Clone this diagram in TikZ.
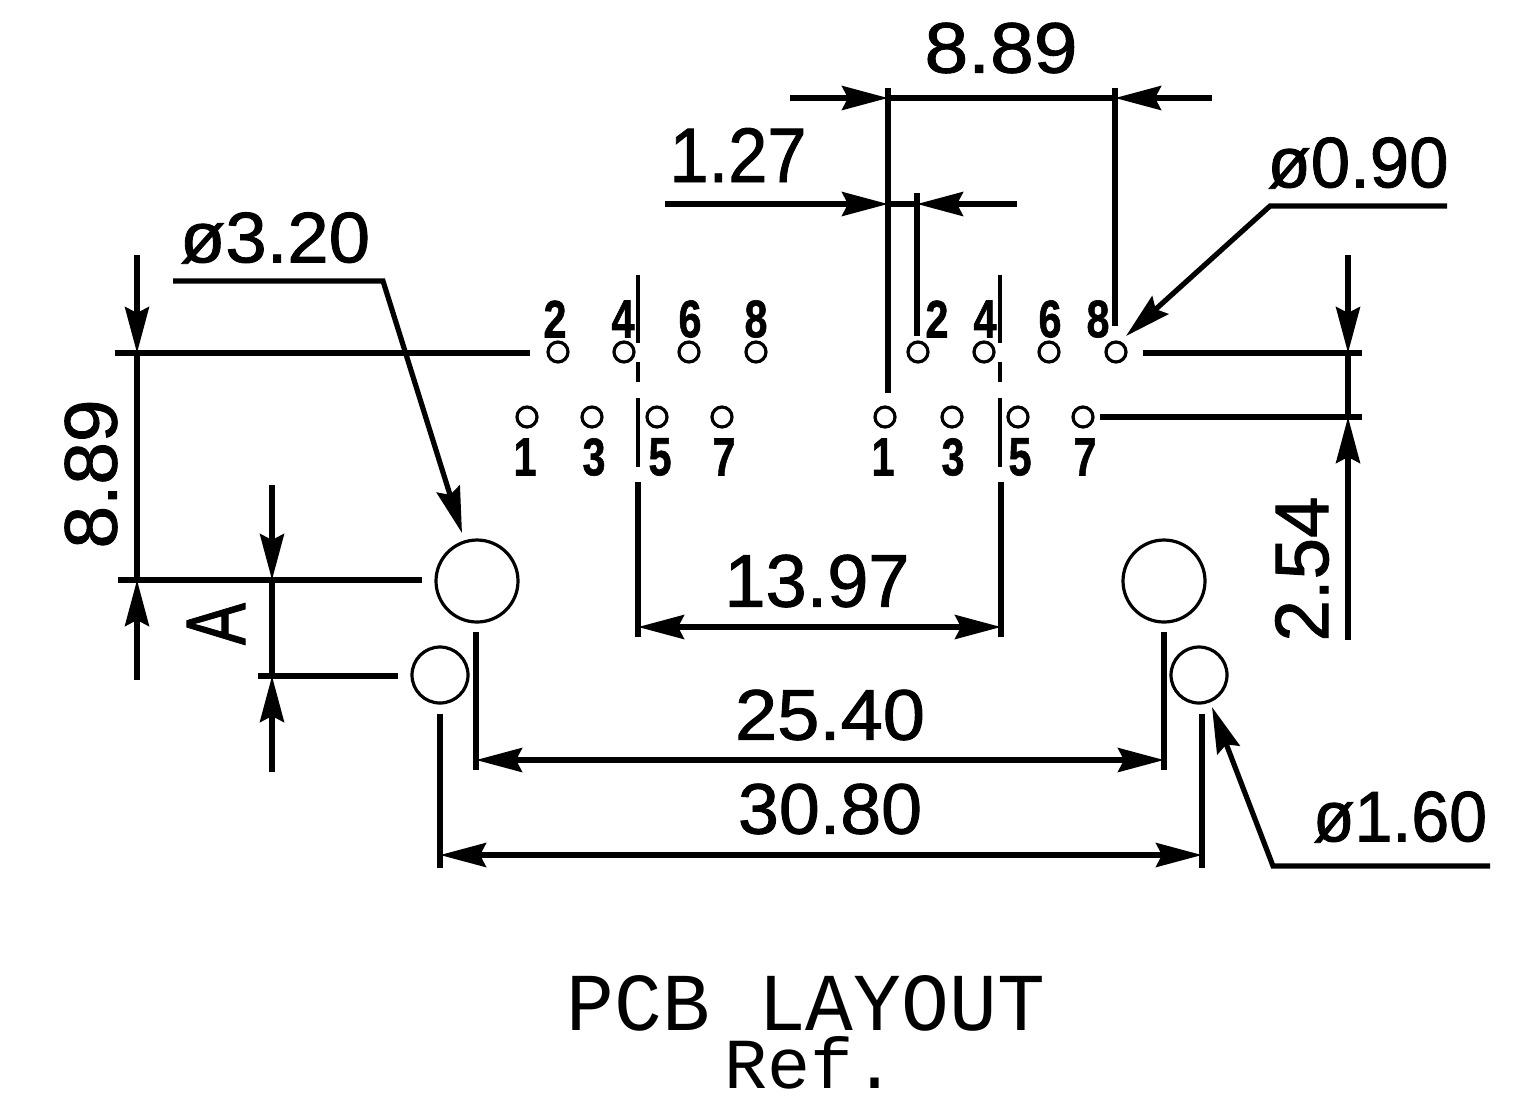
\documentclass[tikz,border=0pt]{standalone}
\usepackage{fontspec}
\usepackage{graphicx}
\setmainfont{Liberation Sans}[RawFeature={embolden=1.2}]
\newfontfamily\cadmono{Liberation Mono}
\usetikzlibrary{arrows.meta}
\newcommand{\fitbox}[3]{\resizebox{\dimexpr #1pt/2\relax}{\dimexpr #2pt/2\relax}{#3}}
\tikzset{
  x=0.5pt,y=-0.5pt,
  dimline/.style={line width=2.6pt,black},
  thinline/.style={line width=1.6pt,black},
  dimarrow/.style={dimline,-{Stealth[length=23pt,width=12pt,inset=3pt]}},
  dimboth/.style={dimline,{Stealth[length=23pt,width=12pt,inset=3pt]}-{Stealth[length=23pt,width=12pt,inset=3pt]}},
  holebig/.style={circle,draw,line width=1.6pt,minimum size=41pt,inner sep=0pt},
  holesmall/.style={circle,draw,line width=1.6pt,minimum size=28pt,inner sep=0pt},
  pin/.style={circle,draw,line width=1.6pt,minimum size=10pt,inner sep=0pt},
  txt/.style={inner sep=0pt,outer sep=0pt},
}
\begin{document}
\begin{tikzpicture}
\useasboundingbox (0,0) rectangle (1529,1100);
% mounting holes
\node[holebig] (bigL) at (477,581) {};
\node[holebig] (bigR) at (1164,581) {};
\node[holesmall] (smL) at (440,675) {};
\node[holesmall] (smR) at (1199,675) {};
% pins
\foreach \n/\x/\y in {a1/527/417,a2/558/352,a3/592/417,a4/624/352,a5/657/417,a6/689/352,a7/722/417,a8/756/352,
                      b1/885/417,b2/918/352,b3/952/417,b4/984/352,b5/1018/417,b6/1049/352,b7/1083/417,b8/1116/352}
  \node[pin] (\n) at (\x,\y) {};
% pin labels
\foreach \n/\t/\x/\y in {la1/1/525/457,la2/2/555/319,la3/3/594/457,la4/4/623/319,la5/5/660/457,la6/6/690/319,la7/7/724/457,la8/8/756/319,
                         lb1/1/883/457,lb2/2/937/319,lb3/3/953/457,lb4/4/985/319,lb5/5/1020/457,lb6/6/1050/319,lb7/7/1085/457,lb8/8/1098/319}
  \node[txt] (\n) at (\x,\y) {\fitbox{23}{37}{\bfseries\t}};
% centre lines
\coordinate (cA1) at (638,275); \coordinate (cA2) at (638,343);
\coordinate (cA3) at (638,362); \coordinate (cA4) at (638,382);
\coordinate (cA5) at (638,398); \coordinate (cA6) at (638,467);
\coordinate (cA7) at (638,482); \coordinate (cA8) at (638,637);
\coordinate (cB1) at (1000,275); \coordinate (cB2) at (1000,343);
\coordinate (cB3) at (1000,362); \coordinate (cB4) at (1000,382);
\coordinate (cB5) at (1000,398); \coordinate (cB6) at (1000,467);
\coordinate (cB7) at (1001,482); \coordinate (cB8) at (1001,637);
\draw[thinline] (cA1) -- (cA2) (cA3) -- (cA4) (cA5) -- (cA6);
\draw[thinline] (cB1) -- (cB2) (cB3) -- (cB4) (cB5) -- (cB6);
\draw[dimline] (cA7) -- (cA8) (cB7) -- (cB8);
% 13.97
\coordinate (d1L) at (638,627); \coordinate (d1R) at (1001,627);
\draw[dimboth] (d1L) -- (d1R);
\node[txt] (t1397) at (817,581) {\fitbox{185}{52}{13.97}};
% 25.40
\coordinate (e1) at (476,632); \coordinate (e2) at (476,770);
\coordinate (e3) at (1164,632); \coordinate (e4) at (1164,770);
\coordinate (eL) at (476,760); \coordinate (eR) at (1164,760);
\draw[dimline] (e1) -- (e2) (e3) -- (e4);
\draw[dimboth] (eL) -- (eR);
\node[txt] (t2540) at (830,715) {\fitbox{190}{50}{25.40}};
% 30.80
\coordinate (f1) at (440,714); \coordinate (f2) at (440,868);
\coordinate (f3) at (1202,714); \coordinate (f4) at (1202,868);
\coordinate (fL) at (440,855); \coordinate (fR) at (1202,855);
\draw[dimline] (f1) -- (f2) (f3) -- (f4);
\draw[dimboth] (fL) -- (fR);
\node[txt] (t3080) at (830,809) {\fitbox{184}{50}{30.80}};
% top 8.89
\coordinate (g1) at (888,88); \coordinate (g2) at (888,393);
\coordinate (g3) at (1115,88); \coordinate (g4) at (1115,326);
\coordinate (gL) at (790,98); \coordinate (gLt) at (888,98);
\coordinate (gR) at (1212,98); \coordinate (gRt) at (1115,98);
\draw[dimline] (g1) -- (g2) (g3) -- (g4) (gLt) -- (gRt);
\draw[dimarrow] (gL) -- (gLt);
\draw[dimarrow] (gR) -- (gRt);
\node[txt] (t889a) at (1001,48) {\fitbox{153}{50}{8.89}};
% 1.27
\coordinate (h1) at (917,193); \coordinate (h2) at (917,336);
\coordinate (hL) at (665,204); \coordinate (hLt) at (888,204);
\coordinate (hR) at (1017,204); \coordinate (hRt) at (917,204);
\draw[dimline] (h1) -- (h2) (hLt) -- (hRt);
\draw[dimarrow] (hL) -- (hLt);
\draw[dimarrow] (hR) -- (hRt);
\node[txt] (t127) at (738,155) {\fitbox{137}{54}{1.27}};
% dia 0.90
\coordinate (i1) at (1447,206); \coordinate (i2) at (1270,206); \coordinate (i3) at (1126,336);
\draw[dimarrow] (i1) -- (i2) -- (i3);
\node[txt] (t090) at (1358,163) {\fitbox{181}{50}{ø0.90}};
% right 2.54
\coordinate (j1) at (1143,353); \coordinate (j2) at (1362,353);
\coordinate (j3) at (1100,417); \coordinate (j4) at (1362,417);
\coordinate (jT) at (1348,255); \coordinate (jTt) at (1348,353);
\coordinate (jB) at (1348,640); \coordinate (jBt) at (1348,417);
\draw[dimline] (j1) -- (j2) (j3) -- (j4) (jTt) -- (jBt);
\draw[dimarrow] (jT) -- (jTt);
\draw[dimarrow] (jB) -- (jBt);
\node[txt,rotate=90] (t254) at (1302,569) {\fitbox{145}{53}{2.54}};
% left 8.89
\coordinate (k1) at (115,353); \coordinate (k2) at (530,353);
\coordinate (k3) at (118,580); \coordinate (k4) at (422,580);
\coordinate (kT) at (137,255); \coordinate (kTt) at (137,353);
\coordinate (kB) at (137,680); \coordinate (kBt) at (137,580);
\draw[dimline] (k1) -- (k2) (k3) -- (k4) (kTt) -- (kBt);
\draw[dimarrow] (kT) -- (kTt);
\draw[dimarrow] (kB) -- (kBt);
\node[txt,rotate=90] (t889b) at (91,474) {\fitbox{149}{52}{8.89}};
% A
\coordinate (l1) at (258,676); \coordinate (l2) at (398,676);
\coordinate (lT) at (272,485); \coordinate (lTt) at (272,580);
\coordinate (lB) at (272,772); \coordinate (lBt) at (272,676);
\draw[dimline] (l1) -- (l2) (lTt) -- (lBt);
\draw[dimarrow] (lT) -- (lTt);
\draw[dimarrow] (lB) -- (lBt);
\node[txt,rotate=90] (tA) at (216,624) {\fitbox{42}{58}{A}};
% dia 3.20
\coordinate (m1) at (173,281); \coordinate (m2) at (383,281); \coordinate (m3) at (462,533);
\draw[dimarrow] (m1) -- (m2) -- (m3);
\node[txt] (t320) at (275,238) {\fitbox{190}{50}{ø3.20}};
% dia 1.60
\coordinate (n1) at (1490,866); \coordinate (n2) at (1273,866); \coordinate (n3) at (1212,707);
\draw[dimarrow] (n1) -- (n2) -- (n3);
\node[txt] (t160) at (1400,817) {\fitbox{174}{50}{ø1.60}};
% title
\node[txt] (title) at (806,1003) {\fitbox{478}{55}{\cadmono PCB LAYOUT}};
\node[txt] (ref) at (811,1063) {\fitbox{172}{52}{\cadmono Ref.}};
\end{tikzpicture}
\end{document}
